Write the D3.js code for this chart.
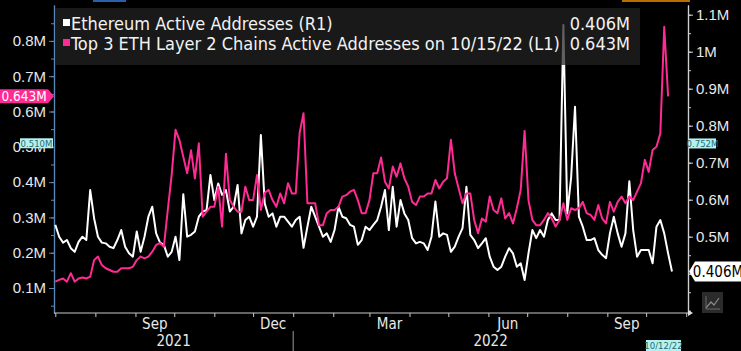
<!DOCTYPE html>
<html>
<head>
<meta charset="utf-8">
<script src="https://cdn.jsdelivr.net/npm/d3@7"></script>
<style>
  body { margin: 0; background: #000; }
  svg { display: block; font-family: "Liberation Sans Narrow", "DejaVu Sans Condensed", "DejaVu Sans", sans-serif; font-stretch: condensed; }
</style>
</head>
<body>
<div id="chart"></div>
<script>
// Series are sampled every 3 days starting 2021-07-01 (values in millions).
var startDate = "2021-07-01";
var stepDays = 3;

// Ethereum Active Addresses (R1)
var ethActive = [
  0.532, 0.500, 0.484, 0.491, 0.469, 0.459, 0.486, 0.500, 0.491, 0.626,
  0.550, 0.500, 0.484, 0.482, 0.473, 0.469, 0.491, 0.518, 0.473, 0.455,
  0.446, 0.514, 0.459, 0.500, 0.554, 0.581, 0.509, 0.484, 0.478, 0.446,
  0.459, 0.500, 0.437, 0.615, 0.500, 0.505, 0.514, 0.554, 0.568, 0.572,
  0.667, 0.599, 0.644, 0.613, 0.626, 0.568, 0.581, 0.640, 0.509, 0.545,
  0.554, 0.527, 0.554, 0.775, 0.590, 0.554, 0.563, 0.527, 0.554, 0.554,
  0.541, 0.527, 0.545, 0.554, 0.470, 0.527, 0.581, 0.554, 0.527, 0.500,
  0.509, 0.486, 0.518, 0.581, 0.554, 0.550, 0.532, 0.527, 0.478, 0.491,
  0.527, 0.518, 0.532, 0.545, 0.581, 0.626, 0.518, 0.635, 0.527, 0.599,
  0.563, 0.545, 0.496, 0.482, 0.486, 0.482, 0.464, 0.500, 0.595, 0.500,
  0.509, 0.505, 0.459, 0.473, 0.500, 0.523, 0.635, 0.505, 0.491, 0.469,
  0.482, 0.496, 0.446, 0.419, 0.410, 0.419, 0.446, 0.469, 0.455, 0.419,
  0.428, 0.383, 0.455, 0.518, 0.496, 0.518, 0.500, 0.545, 0.563, 0.545,
  0.545, 1.072, 0.563, 0.660, 0.851, 0.554, 0.527, 0.491, 0.491, 0.496,
  0.464, 0.451, 0.442, 0.509, 0.554, 0.509, 0.473, 0.509, 0.650, 0.518,
  0.446, 0.464, 0.464, 0.464, 0.428, 0.527, 0.545, 0.509, 0.455, 0.406
];

// Top 3 ETH Layer 2 Chains Active Addresses (L1)
var l2Active = [
  0.118, 0.123, 0.127, 0.118, 0.142, 0.118, 0.127, 0.130, 0.127, 0.132,
  0.179, 0.189, 0.165, 0.156, 0.151, 0.146, 0.146, 0.156, 0.156, 0.156,
  0.160, 0.179, 0.189, 0.184, 0.189, 0.203, 0.222, 0.227, 0.217, 0.321,
  0.420, 0.548, 0.519, 0.472, 0.425, 0.490, 0.410, 0.510, 0.302, 0.316,
  0.330, 0.330, 0.387, 0.274, 0.480, 0.349, 0.330, 0.316, 0.316, 0.387,
  0.349, 0.349, 0.420, 0.321, 0.370, 0.378, 0.349, 0.330, 0.368, 0.340,
  0.397, 0.368, 0.368, 0.540, 0.595, 0.340, 0.340, 0.340, 0.278, 0.278,
  0.312, 0.321, 0.321, 0.330, 0.359, 0.363, 0.373, 0.378, 0.349, 0.312,
  0.312, 0.349, 0.425, 0.425, 0.470, 0.401, 0.382, 0.444, 0.415, 0.453,
  0.411, 0.387, 0.344, 0.335, 0.359, 0.359, 0.368, 0.368, 0.406, 0.382,
  0.401, 0.411, 0.520, 0.425, 0.382, 0.340, 0.368, 0.368, 0.293, 0.255,
  0.297, 0.288, 0.359, 0.321, 0.312, 0.354, 0.297, 0.312, 0.283, 0.326,
  0.378, 0.545, 0.349, 0.293, 0.278, 0.278, 0.293, 0.312, 0.297, 0.274,
  0.293, 0.340, 0.293, 0.326, 0.321, 0.326, 0.344, 0.312, 0.307, 0.293,
  0.335, 0.297, 0.283, 0.344, 0.316, 0.344, 0.359, 0.340, 0.359, 0.349,
  0.373, 0.397, 0.463, 0.429, 0.491, 0.500, 0.538, 0.840, 0.643
];

var leftTicks = [0.1, 0.2, 0.3, 0.4, 0.5, 0.6, 0.7, 0.8];
var rightTicks = [0.4, 0.5, 0.6, 0.7, 0.8, 0.9, 1.0, 1.1];
var monthLabels = ["Sep", "Dec", "Mar", "Jun", "Sep"];
var monthLabelDates = ["2021-09-01", "2021-12-01", "2022-03-01", "2022-06-01", "2022-09-01"];
var yearLabels = ["2021", "2022"];

var ethLabel = "Ethereum Active Addresses  (R1)";
var l2Label = "Top 3 ETH Layer 2 Chains Active Addresses on 10/15/22 (L1)";
var l2Marker = 0.510;   // left axis marker
var ethMarker = 0.752;  // right axis marker
var lastDateLabel = "10/12/22";

var pink = "#ff2a93";
var cyanBox = "#b4f2f2";

var width = 741, height = 351;
var plot = { left: 54, right: 688, top: 5, bottom: 313 };

var parseDate = d3.timeParse("%Y-%m-%d");
var fmtM = function(v) { return d3.format(".3f")(v) + "M"; };

var start = parseDate(startDate);
var dateAt = function(i) { return d3.timeDay.offset(start, i * stepDays); };

var xScale = d3.scaleTime()
  .domain([parseDate("2021-07-01"), parseDate("2022-11-01")])
  .range([55.3, 686.2]);

var yLeft = d3.scaleLinear().domain([0.0292, 0.9017]).range([plot.bottom, plot.top]);
var yRight = d3.scaleLinear().domain([0.2938, 1.1262]).range([plot.bottom, plot.top]);

var svg = d3.select("#chart").append("svg")
  .attr("width", width)
  .attr("height", height);

svg.append("rect").attr("width", width).attr("height", height).attr("fill", "#000");

// thin UI strips at the top edge
svg.append("rect").attr("x", 93).attr("y", 0).attr("width", 33).attr("height", 2).attr("fill", "#2a5fb0");
svg.append("rect").attr("x", 622).attr("y", 0).attr("width", 68).attr("height", 2).attr("fill", "#b86e00");

// Left axis
var minorLeft = d3.range(0.05, 0.9, 0.05);
var leftAxis = svg.append("g")
  .attr("class", "y_left")
  .attr("transform", "translate(" + plot.left + ",0)")
  .call(d3.axisLeft(yLeft).tickValues(minorLeft).tickSize(3).tickFormat("").tickSizeOuter(0));
leftAxis.append("g")
  .call(d3.axisLeft(yLeft).tickValues(leftTicks).tickSize(5).tickFormat(function(d) { return d3.format(".1f")(d) + "M"; }).tickSizeOuter(0));

// Right axis
var minorRight = d3.range(0.3, 1.13, 0.05);
var rightAxis = svg.append("g")
  .attr("class", "y_right")
  .attr("transform", "translate(" + plot.right + ",0)")
  .call(d3.axisRight(yRight).tickValues(minorRight).tickSize(3).tickFormat("").tickSizeOuter(0));
rightAxis.append("g")
  .call(d3.axisRight(yRight).tickValues(rightTicks).tickSize(5).tickFormat(function(d) { return (d === 1 ? "1" : d3.format(".1f")(d)) + "M"; }).tickSizeOuter(0));

svg.selectAll(".y_left path, .y_right path").attr("stroke", "#5b86b8").attr("stroke-width", 1.2);
svg.selectAll(".y_left line").attr("stroke", "#5b86b8");
svg.selectAll(".y_right path").attr("stroke", "#d0d0d0");
svg.selectAll(".y_right line").attr("stroke", "#d0d0d0");
svg.selectAll(".y_left text, .y_right text")
  .attr("fill", "#e8e8e8")
  .style("font-size", "15px");

// Bottom axis
var xAxis = svg.append("g")
  .attr("class", "x_axis")
  .attr("transform", "translate(0," + plot.bottom + ")")
  .call(d3.axisBottom(xScale).ticks(d3.timeMonth.every(1)).tickSize(4).tickFormat("").tickSizeOuter(0));
xAxis.select("path").attr("d", "M" + plot.left + ",0H" + plot.right).attr("stroke", "#c8c8c8").attr("stroke-width", 1.2);
xAxis.selectAll("line").attr("stroke", "#c8c8c8");
xAxis.append("path")
  .attr("d", "M" + plot.right + ",-3L" + (plot.right + 5) + ",0L" + plot.right + ",3Z")
  .attr("fill", "#e0e0e0");

svg.selectAll(".month_label")
  .data(monthLabels)
  .enter().append("text")
  .attr("class", "month_label")
  .attr("x", function(d, i) {
    var m = parseDate(monthLabelDates[i]);
    return (xScale(m) + xScale(d3.timeMonth.offset(m, 1))) / 2;
  })
  .attr("y", 329)
  .attr("text-anchor", "middle")
  .attr("fill", "#e8e8e8")
  .style("font-size", "15px")
  .text(function(d) { return d; });

var yearBreak = xScale(parseDate("2022-01-01"));
svg.selectAll(".year_label")
  .data(yearLabels)
  .enter().append("text")
  .attr("class", "year_label")
  .attr("x", function(d, i) { return i === 0 ? (plot.left + yearBreak) / 2 : (yearBreak + plot.right) / 2; })
  .attr("y", 346)
  .attr("text-anchor", "middle")
  .attr("fill", "#e8e8e8")
  .style("font-size", "15px")
  .text(function(d) { return d; });

svg.append("line")
  .attr("x1", yearBreak).attr("x2", yearBreak)
  .attr("y1", 331).attr("y2", height)
  .attr("stroke", "#9a9a9a");

// Lines
svg.append("clipPath").attr("id", "plotclip")
  .append("rect").attr("x", plot.left).attr("y", 0).attr("width", plot.right - plot.left).attr("height", plot.bottom);

var lines = svg.append("g").attr("clip-path", "url(#plotclip)");

var ethLine = d3.line()
  .x(function(d, i) { return xScale(dateAt(i)); })
  .y(function(d) { return yRight(d); });
var l2Line = d3.line()
  .x(function(d, i) { return xScale(dateAt(i)); })
  .y(function(d) { return yLeft(d); });

lines.append("path")
  .datum(ethActive)
  .attr("fill", "none")
  .attr("stroke", "#ffffff")
  .attr("stroke-width", 2)
  .attr("stroke-linejoin", "round")
  .attr("d", ethLine);

lines.append("path")
  .datum(l2Active)
  .attr("fill", "none")
  .attr("stroke", pink)
  .attr("stroke-width", 2)
  .attr("stroke-linejoin", "round")
  .attr("d", l2Line);

// Legend
var legend = svg.append("g").attr("class", "legend");
legend.append("rect")
  .attr("x", 55).attr("y", 8).attr("width", 585).attr("height", 57)
  .attr("fill", "#222222").attr("opacity", 0.72);

var legendRows = [
  { label: ethLabel, value: ethActive[ethActive.length - 1], color: "#ffffff" },
  { label: l2Label, value: l2Active[l2Active.length - 1], color: pink }
];
var rows = legend.selectAll(".legend_row")
  .data(legendRows)
  .enter().append("g")
  .attr("class", "legend_row")
  .attr("transform", function(d, i) { return "translate(0," + (30 + i * 20) + ")"; });
rows.append("rect")
  .attr("x", 63).attr("y", -11).attr("width", 7).attr("height", 7)
  .attr("fill", function(d) { return d.color; });
rows.append("text")
  .attr("x", 71)
  .attr("fill", "#f2f2f2")
  .style("font-size", "18px")
  .text(function(d) { return d.label; });
rows.append("text")
  .attr("x", 630)
  .attr("text-anchor", "end")
  .attr("fill", "#f2f2f2")
  .style("font-size", "18px")
  .text(function(d) { return fmtM(d.value); });

// Last value flags
function flag(g, xTip, xFar, yc, h, fill, textColor, txt, size) {
  var dir = xTip > xFar ? 1 : -1;
  var body = xTip - dir * 6;
  g.append("path")
    .attr("d", "M" + xFar + "," + (yc - h / 2) + "L" + body + "," + (yc - h / 2) + "L" + xTip + "," + yc +
      "L" + body + "," + (yc + h / 2) + "L" + xFar + "," + (yc + h / 2) + "Z")
    .attr("fill", fill);
  g.append("text")
    .attr("x", (xFar + body) / 2)
    .attr("y", yc)
    .attr("dy", "0.36em")
    .attr("text-anchor", "middle")
    .attr("fill", textColor)
    .style("font-size", size + "px")
    .text(txt);
}

var marks = svg.append("g").attr("class", "marks");
flag(marks, 54, 0, yLeft(l2Active[l2Active.length - 1]), 14, pink, "#ffffff", fmtM(l2Active[l2Active.length - 1]), 13.5);
flag(marks, 689, 741, yRight(ethActive[ethActive.length - 1]), 20, "#ffffff", "#000000", fmtM(ethActive[ethActive.length - 1]), 15);

function box(g, x, yc, w, h, txt) {
  g.append("rect").attr("x", x).attr("y", yc - h / 2).attr("width", w).attr("height", h).attr("fill", cyanBox);
  g.append("text")
    .attr("x", x + w / 2).attr("y", yc).attr("dy", "0.36em")
    .attr("text-anchor", "middle")
    .attr("fill", "#2a6a6a")
    .style("font-size", "9.5px")
    .text(txt);
}
box(marks, 20, yLeft(l2Marker), 33, 10, fmtM(l2Marker));
box(marks, 689, yRight(ethMarker), 27, 10, fmtM(ethMarker));

// last-date box under the axis
marks.append("rect").attr("x", 646).attr("y", 340).attr("width", 35).attr("height", 11).attr("fill", cyanBox);
marks.append("text").attr("x", 663.5).attr("y", 345.5).attr("dy", "0.36em").attr("text-anchor", "middle")
  .attr("fill", "#2a6a6a").style("font-size", "9.5px").text(lastDateLabel);

// chart-type icon at bottom right
var icon = svg.append("g").attr("transform", "translate(702,292)");
icon.append("rect").attr("width", 21).attr("height", 21).attr("fill", "#2b2b2b");
icon.append("path").attr("d", "M4,16L9,10L12,13L17,6").attr("fill", "none").attr("stroke", "#8a8a8a").attr("stroke-width", 1.2);
icon.append("path").attr("d", "M4,4V17H18").attr("fill", "none").attr("stroke", "#6a6a6a").attr("stroke-width", 1);
</script>
</body>
</html>
